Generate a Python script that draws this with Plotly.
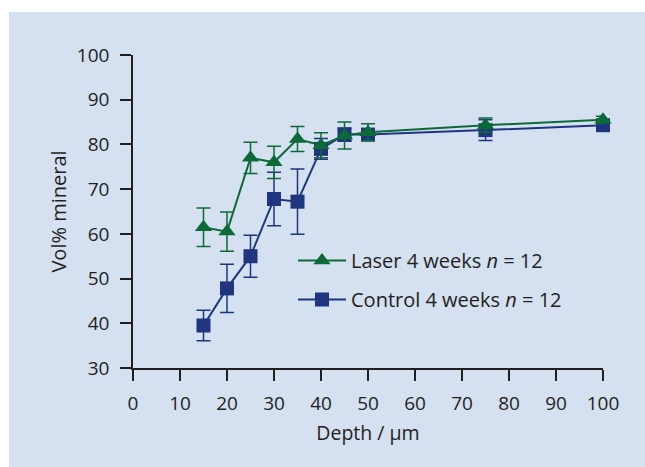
import plotly.graph_objects as go

# Depth profile of mineral content
depth = [15, 20, 25, 30, 35, 40, 45, 50, 75, 100]
laser = [61.5, 60.5, 77.0, 76.0, 81.2, 79.8, 82.0, 82.7, 84.3, 85.5]
laser_err = [4.3, 4.4, 3.5, 3.6, 2.8, 2.8, 3.0, 1.9, 1.6, 0.8]
control = [39.5, 47.8, 55.0, 67.8, 67.2, 79.0, 82.2, 82.2, 83.2, 84.3]
control_err = [3.4, 5.4, 4.7, 6.0, 7.3, 2.3, 1.5, 1.2, 2.3, 0.8]

x_ticks = [0, 10, 20, 30, 40, 50, 60, 70, 80, 90, 100]
y_ticks = [30, 40, 50, 60, 70, 80, 90, 100]

GREEN = "#0b6a35"
BLUE = "#1f357f"
INK = "#231f20"
PANEL = "#d5e0f1"
FONT = "Open Sans"

W, H = 645, 467
L, R, T, B = 133, 42, 55, 99
pw, ph = W - L - R, H - T - B

fig = go.Figure()

fig.add_trace(go.Scatter(
    x=depth, y=control, name="Control 4 weeks <i>n</i> = 12",
    mode="lines+markers", legendgroup="c", legendrank=2,
    line=dict(color=BLUE, width=2),
    marker=dict(symbol="square", size=14, color=BLUE),
    error_y=dict(type="data", array=control_err, color=BLUE, thickness=1.5, width=7),
    cliponaxis=False,
))
fig.add_trace(go.Scatter(
    x=depth, y=laser, name="Laser 4 weeks <i>n</i> = 12",
    mode="lines+markers", legendgroup="l", legendrank=1,
    line=dict(color=GREEN, width=2),
    marker=dict(symbol="triangle-up", size=15, color=GREEN),
    error_y=dict(type="data", array=laser_err, color=GREEN, thickness=1.5, width=7),
    cliponaxis=False,
))

# light blue panel behind the chart
fig.add_shape(
    type="rect", xref="paper", yref="paper", layer="below",
    x0=(9 - L) / pw, x1=(W - L) / pw,
    y0=-(H - (T + ph)) / ph, y1=(T + ph - 12) / ph,
    fillcolor=PANEL, line=dict(width=0),
)

axis_common = dict(
    showgrid=False, zeroline=False, showline=True, linecolor=INK, linewidth=1.5,
    ticks="outside", ticklen=11, tickwidth=1.5, tickcolor=INK,
    tickfont=dict(family=FONT, size=19, color=INK),
)

fig.update_layout(
    width=W, height=H,
    margin=dict(l=L, r=R, t=T, b=B, pad=0),
    paper_bgcolor="white", plot_bgcolor="rgba(0,0,0,0)",
    font=dict(family=FONT, size=19, color=INK),
    xaxis=dict(range=[0, 100], tickvals=x_ticks, ticklabelstandoff=6,
               title=dict(text="Depth / μm", font=dict(family=FONT, size=19.5, color=INK), standoff=12),
               **axis_common),
    yaxis=dict(range=[30, 100], tickvals=y_ticks, ticklabelstandoff=7,
               title=dict(text="Vol% mineral", font=dict(family=FONT, size=20, color=INK), standoff=5),
               **axis_common),
    legend=dict(x=(293 - L) / pw, y=(T + ph - 241) / ph, xanchor="left", yanchor="top",
                bgcolor="rgba(0,0,0,0)", tracegroupgap=10, itemwidth=48,
                font=dict(family=FONT, size=20, color=INK)),
    showlegend=True,
)

fig.write_html("out.html")
